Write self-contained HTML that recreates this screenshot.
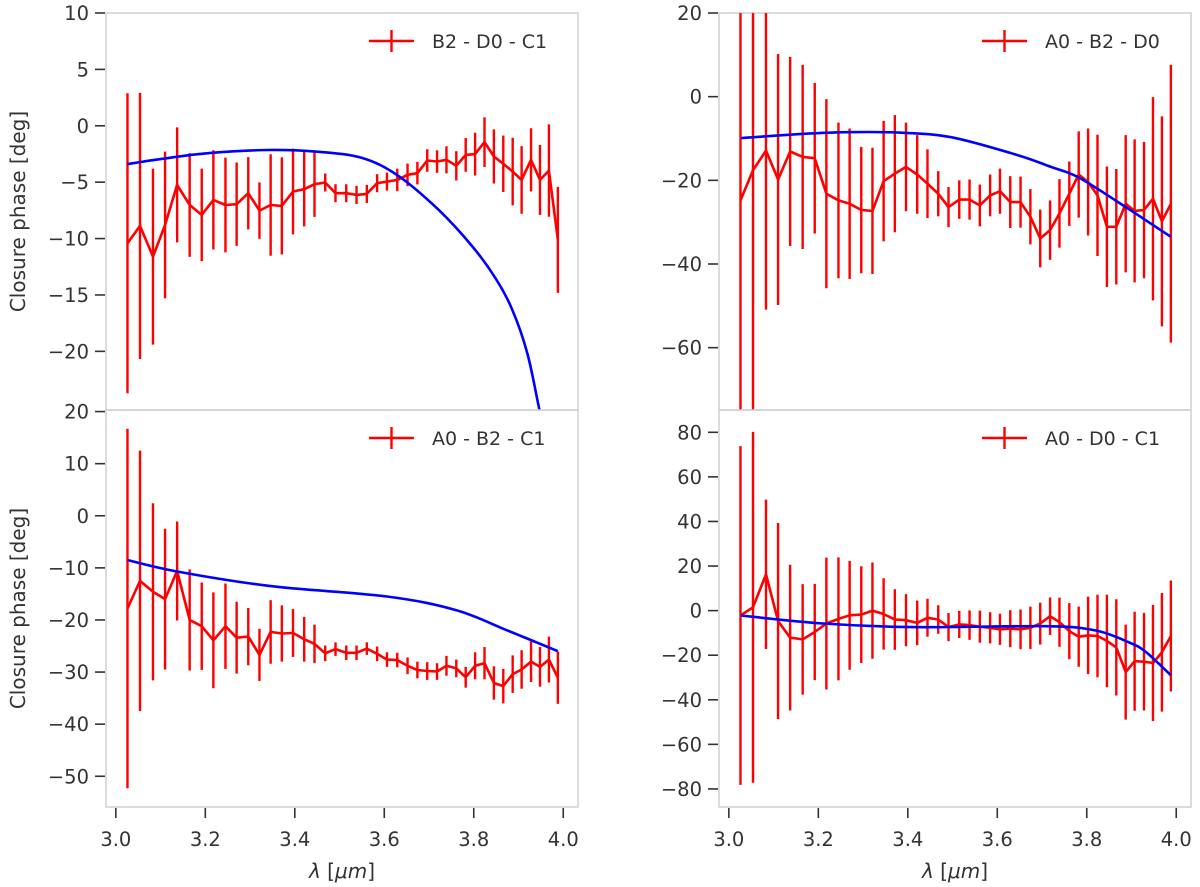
<!DOCTYPE html>
<html><head><meta charset="utf-8"><style>
html,body{margin:0;padding:0;background:#fff;}
svg{display:block;font-family:"DejaVu Sans","Liberation Sans",sans-serif;}
</style></head><body>
<svg id="fig" width="1200" height="887" viewBox="0 0 1200 887" xmlns="http://www.w3.org/2000/svg"></svg>
<script>
// ---- data ----
const lam = [3.026,3.054,3.083,3.110,3.137,3.165,3.192,3.218,3.245,3.270,3.296,3.321,3.346,3.371,3.396,3.421,3.444,3.468,3.491,3.515,3.538,3.561,3.584,3.606,3.629,3.652,3.674,3.696,3.718,3.739,3.761,3.782,3.803,3.824,3.845,3.866,3.887,3.907,3.928,3.948,3.968,3.988];

const tlVal = [-10.42,-8.88,-11.6,-8.79,-5.24,-7.02,-7.9,-6.57,-7.02,-6.95,-5.98,-7.52,-7.02,-7.1,-5.83,-5.62,-5.18,-5.03,-5.98,-5.98,-6.13,-6.04,-5.09,-4.95,-4.8,-4.35,-4.2,-3.08,-3.17,-3.02,-3.55,-2.58,-2.51,-1.45,-2.72,-3.37,-4.06,-4.8,-3.02,-4.8,-3.97,-10.12];
const tlErr = [13.3,11.8,7.8,6.5,5.1,4.6,4.1,4.4,4.2,3.7,3.2,2.5,4.5,4.3,3.8,3.3,2.9,0.8,0.8,0.8,0.8,0.8,0.8,0.8,1.0,1.0,1.0,1.0,1.0,1.2,1.3,1.5,1.9,2.2,2.4,2.5,3.0,3.0,2.8,3.1,4.1,4.7];
const tlModelLam = [3.026,3.1,3.2,3.34,3.45,3.55,3.63,3.72,3.797,3.85,3.886,3.92,3.947,3.97];
const tlModelVal = [-3.4,-2.95,-2.45,-2.15,-2.3,-2.85,-4.4,-7.4,-10.7,-13.6,-16.3,-20.2,-25.2,-29];

const trVal = [-24.8,-17.6,-12.9,-19.8,-13.1,-14.4,-14.7,-23.2,-24.8,-25.6,-27.1,-27.3,-20.2,-18.4,-16.8,-18.6,-20.8,-23.2,-26.4,-24.6,-24.6,-26.0,-23.6,-22.6,-25.2,-25.2,-28.7,-33.9,-31.9,-27.9,-23.2,-18.6,-20.4,-23.6,-31.1,-31.1,-25.6,-27.3,-27.1,-24.4,-29.8,-25.6];
const trErr = [55,60,38,30,22.6,22,18,22.6,18.6,18,15.1,15.1,14.4,14,10.6,9.4,8.2,5.4,4.8,4.6,4.8,5.0,5.0,5.4,6.2,6.1,6.6,6.9,7.1,8.2,7.7,10.3,12.8,14.5,14.4,13.8,16.4,17.1,16.3,24.3,25.1,33.2];
const trModelLam = [3.027,3.15,3.26,3.38,3.497,3.646,3.72,3.78,3.87,3.988];
const trModelVal = [-9.9,-9.0,-8.5,-8.6,-9.7,-14.0,-16.8,-19.2,-25.2,-33.5];

const blVal = [-17.8,-12.5,-14.6,-16.0,-10.6,-20.0,-21.2,-23.9,-21.2,-23.4,-23.2,-26.7,-22.3,-22.6,-22.5,-23.7,-24.6,-26.4,-25.6,-26.3,-26.3,-25.5,-26.5,-27.6,-27.7,-28.8,-29.6,-29.8,-29.9,-28.8,-29.3,-31.0,-28.8,-28.3,-32.1,-32.7,-30.4,-29.5,-28.0,-29.0,-27.6,-31.1];
const blErr = [34.5,25,17,13.5,9.5,9.7,8.4,9.2,8.2,6.9,5.5,5.0,6.1,5.4,4.6,4.3,3.7,1.5,1.3,1.4,1.4,1.2,1.4,1.4,1.4,1.6,1.6,1.7,1.6,1.9,1.7,2.0,2.6,3.1,3.2,3.3,3.6,3.7,3.9,3.8,4.4,5.0];
const blModelLam = [3.026,3.137,3.346,3.606,3.76,3.872,3.988];
const blModelVal = [-8.5,-10.7,-13.5,-15.5,-18.1,-21.9,-26.0];

const brVal = [-2.2,1.5,16.3,-4.7,-12.1,-12.9,-9.6,-5.8,-3.7,-2.1,-1.8,0,-1.5,-4.0,-4.3,-5.5,-3.2,-4.0,-7.4,-6.2,-6.5,-7.2,-7.7,-8.4,-8.1,-8.4,-7.7,-5.8,-2.5,-5.2,-9.2,-11.7,-11.1,-11.4,-13.6,-16.5,-27.6,-22.7,-22.9,-23.5,-18.7,-11.4];
const brErr = [76,78.7,33.5,44,32.7,24.8,21.6,29.6,27.6,24.4,21.7,21.6,16,13.6,11.7,10,8.5,6.4,6.3,6.1,6.6,7.2,7.0,7.0,8.3,8.9,9.5,9.4,8.4,11,12.6,13.5,17.4,18.5,20.7,21.6,21.3,22.2,21.9,26.1,26.6,24.9];
const brModelLam = [3.027,3.211,3.412,3.71,3.82,3.895,3.932,3.988];
const brModelVal = [-2.2,-5.8,-7.4,-7.0,-8.9,-14.3,-18.5,-29.0];

const xTicks = [3.0,3.2,3.4,3.6,3.8,4.0];
const xTickLabels = ["3.0","3.2","3.4","3.6","3.8","4.0"];
const tlTicks = [10,5,0,-5,-10,-15,-20];
const trTicks = [20,0,-20,-40,-60];
const blTicks = [20,10,0,-10,-20,-30,-40,-50];
const brTicks = [80,60,40,20,0,-20,-40,-60,-80];
const legends = ["B2 - D0 - C1","A0 - B2 - D0","A0 - B2 - C1","A0 - D0 - C1"];

// ---- drawing ----
const NS = "http://www.w3.org/2000/svg";
const svg = document.getElementById('fig');
function mk(tag, attrs, parent){
  const e = document.createElementNS(NS, tag);
  for (const k in attrs) e.setAttribute(k, attrs[k]);
  (parent||svg).appendChild(e);
  return e;
}
function fmt(v){ return v < 0 ? "\u2212" + Math.abs(v) : String(v); }

const panels = [
  {key:'top-left', x0:106, y0:13, w:472, h:397, ylim:[-25.2,10], ticks:tlTicks, val:tlVal, err:tlErr, mL:tlModelLam, mV:tlModelVal, leg:legends[0], ylab:true, xlab:false},
  {key:'top-right', x0:719, y0:13, w:472, h:397, ylim:[-74.9,20], ticks:trTicks, val:trVal, err:trErr, mL:trModelLam, mV:trModelVal, leg:legends[1], ylab:false, xlab:false},
  {key:'bottom-left', x0:106, y0:410, w:472, h:397, ylim:[-55.9,20.3], ticks:blTicks, val:blVal, err:blErr, mL:blModelLam, mV:blModelVal, leg:legends[2], ylab:true, xlab:true},
  {key:'bottom-right', x0:719, y0:410, w:472, h:397, ylim:[-88.1,90], ticks:brTicks, val:brVal, err:brErr, mL:brModelLam, mV:brModelVal, leg:legends[3], ylab:false, xlab:true}
];
const xlim = [2.978, 4.033];

panels.forEach((p, pi) => {
  const g = mk('g', {});
  
  
  const xs = v => p.x0 + (v - xlim[0]) / (xlim[1] - xlim[0]) * p.w;
  const ys = v => p.y0 + (p.ylim[1] - v) / (p.ylim[1] - p.ylim[0]) * p.h;

  const cp = mk('clipPath', {id:'clip'+pi}, g);
  mk('rect', {x:p.x0, y:p.y0, width:p.w, height:p.h}, cp);

  const fr = mk('rect', {x:p.x0, y:p.y0, width:p.w, height:p.h, fill:'none', stroke:'#d0d0d0', 'stroke-width':1.5}, g);
  
  

  p.ticks.forEach(t => {
    const y = ys(t);
    const tk = mk('line', {x1:p.x0-11, x2:p.x0-1, y1:y, y2:y, stroke:'#333', 'stroke-width':1.6}, g);
    
    
    const tl = mk('text', {x:p.x0-17, y:y+7, 'text-anchor':'end', 'font-size':19.5, fill:'#333'}, g);
    tl.textContent = fmt(t);
    
    
  });
  if (p.xlab) {
    xTicks.forEach((t, i) => {
      const x = xs(t);
      const tk = mk('line', {x1:x, x2:x, y1:p.y0+p.h+1, y2:p.y0+p.h+11, stroke:'#333', 'stroke-width':1.6}, g);
      
      
      const tl = mk('text', {x:x, y:p.y0+p.h+39, 'text-anchor':'middle', 'font-size':19.5, fill:'#333'}, g);
      tl.textContent = xTickLabels[i];
      
      
    });
    const xl = mk('text', {x:p.x0 + p.w/2, y:878, 'text-anchor':'middle', 'font-size':20, fill:'#333'}, g);
    xl.innerHTML = '<tspan font-style="italic">λ</tspan> [<tspan font-style="italic">μm</tspan>]';
    
    
  }
  if (p.ylab) {
    const cy = p.y0 + p.h/2;
    const yl = mk('text', {x:25, y:cy, 'text-anchor':'middle', 'font-size':20, fill:'#333', transform:'rotate(-90 25 '+cy+')'}, g);
    yl.textContent = 'Closure phase [deg]';
    
    
  }

  const plot = mk('g', {'clip-path':'url(#clip'+pi+')'}, g);
  
  

  lam.forEach((l, i) => {
    const x = xs(l);
    const eb = mk('line', {x1:x, x2:x, y1:ys(p.val[i]+p.err[i]), y2:ys(p.val[i]-p.err[i]), stroke:'#ff0000', 'stroke-width':2.4}, plot);
    
    
  });
  const dl = mk('polyline', {points: lam.map((l,i)=>xs(l).toFixed(1)+','+ys(p.val[i]).toFixed(1)).join(' '), fill:'none', stroke:'#ff0000', 'stroke-width':2.6, 'stroke-linejoin':'round'}, plot);
  
  

  const pts = p.mL.map((l,i)=>[xs(l), ys(p.mV[i])]);
  let d = 'M' + pts[0][0].toFixed(1) + ',' + pts[0][1].toFixed(1);
  for (let i = 0; i < pts.length-1; i++) {
    const p0 = pts[Math.max(0,i-1)], p1 = pts[i], p2 = pts[i+1], p3 = pts[Math.min(pts.length-1,i+2)];
    const c1 = [p1[0]+(p2[0]-p0[0])/6, p1[1]+(p2[1]-p0[1])/6];
    const c2 = [p2[0]-(p3[0]-p1[0])/6, p2[1]-(p3[1]-p1[1])/6];
    d += ' C' + c1.map(v=>v.toFixed(1)).join(',') + ' ' + c2.map(v=>v.toFixed(1)).join(',') + ' ' + p2.map(v=>v.toFixed(1)).join(',');
  }
  const ml = mk('path', {d:d, fill:'none', stroke:'#0000ff', 'stroke-width':2.6}, plot);
  
  

  const lg = mk('g', {}, g);
  
  
  const lx = p.x0 + 263, ly = p.y0 + 28;
  mk('line', {x1:lx, x2:lx+45, y1:ly, y2:ly, stroke:'#ff0000', 'stroke-width':2.6}, lg);
  mk('line', {x1:lx+22.5, x2:lx+22.5, y1:ly-11, y2:ly+11, stroke:'#ff0000', 'stroke-width':2.4}, lg);
  const lt = mk('text', {x:lx+63, y:ly+7, 'font-size':19, fill:'#333'}, lg);
  lt.textContent = p.leg;
  
  
});
</script>
</body></html>
